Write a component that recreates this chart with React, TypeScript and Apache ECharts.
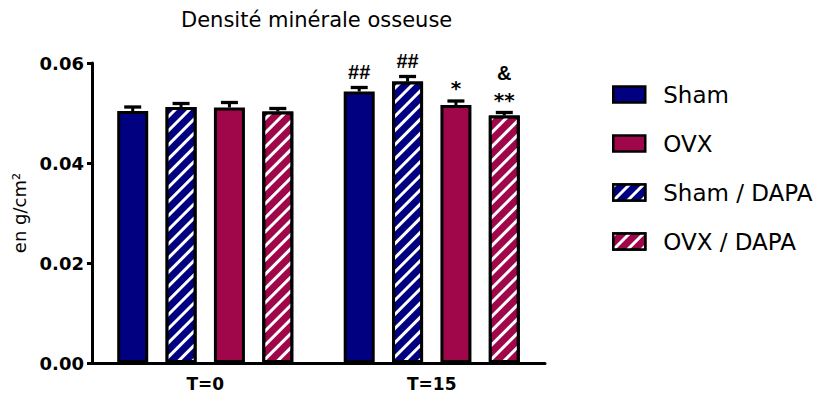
import React, { useEffect, useRef } from "react";
import * as echarts from "echarts";

const categories = ["T=0", "T=15"];
const legendOrder = ["Sham", "OVX", "Sham / DAPA", "OVX / DAPA"];

const shamValues = [0.0504, 0.0543];
const shamErr = [0.0008, 0.0008];
const shamDapaValues = [0.0512, 0.0563];
const shamDapaErr = [0.0007, 0.001];
const ovxValues = [0.0511, 0.0516];
const ovxErr = [0.001, 0.0008];
const ovxDapaValues = [0.0503, 0.0495];
const ovxDapaErr = [0.0006, 0.0006];

const shamAnnot = ["", "##"];
const shamDapaAnnot = ["", "##"];
const ovxAnnot = ["", "*"];
const ovxDapaAnnot = ["", "&\n**"];

const yMin = 0;
const yMax = 0.06;
const yInterval = 0.02;

const NAVY = "#000080";
const WINE = "#A0064A";
const BAR_W = 31;
const BAR_GAP_RATIO = 0.56;
const ARIAL = "'Liberation Sans', Arial, Helvetica, sans-serif";
const WIDE = "'DejaVu Sans', Verdana, sans-serif";

const hatch = {
  symbol: "rect",
  symbolSize: 1,
  color: "#ffffff",
  dashArrayX: [1, 0],
  dashArrayY: [3, 6.5],
  rotation: -Math.PI / 4,
};

function barSeries(name: string, values: number[], color: string, hatched: boolean) {
  return {
    type: "bar",
    name,
    data: values,
    barWidth: BAR_W,
    barGap: BAR_GAP_RATIO * 100 + "%",
    itemStyle: {
      color,
      borderColor: "#000",
      borderWidth: 3,
      ...(hatched ? { decal: hatch } : {}),
    },
    z: 2,
  };
}

function errSeries(k: number, values: number[], errs: number[], annots: string[]) {
  return {
    type: "custom",
    name: "err" + k,
    silent: true,
    z: 5,
    data: values.map((v, i) => [i, v, errs[i]]),
    encode: { x: 0, y: 1 },
    renderItem: (params: any, api: any) => {
      const i = api.value(0);
      const v = api.value(1);
      const e = api.value(2);
      const base = api.coord([i, v]);
      const top = api.coord([i, v + e]);
      const step = BAR_W * (1 + BAR_GAP_RATIO);
      const x = base[0] + (k - 1.5) * step;
      const children: any[] = [
        {
          type: "line",
          shape: { x1: x, y1: base[1], x2: x, y2: top[1] },
          style: { stroke: "#000", lineWidth: 3 },
        },
        {
          type: "line",
          shape: { x1: x - 8.5, y1: top[1], x2: x + 8.5, y2: top[1] },
          style: { stroke: "#000", lineWidth: 3.3 },
        },
      ];
      const t = annots[i];
      if (t) {
        const lines = t.split("\n").reverse();
        let y = top[1];
        lines.forEach((ln, j) => {
          const star = ln.indexOf("*") >= 0;
          if (j === 0) y = top[1] - (star ? 3 : 6);
          children.push({
            type: "text",
            style: {
              text: ln,
              x: x,
              y: y,
              align: "center",
              verticalAlign: "bottom",
              font: star ? "bold 20px " + WIDE : "bold 20px " + ARIAL,
              fill: "#000",
            },
          });
          y -= 27;
        });
      }
      return { type: "group", children };
    },
  };
}

export default function App() {
  const ref = useRef<HTMLDivElement>(null);
  useEffect(() => {
    if (!ref.current) return;
    const chart = echarts.init(ref.current, null, { renderer: "svg" });
    chart.setOption({
      animation: false,
      backgroundColor: "#ffffff",
      title: {
        text: "Densité minérale osseuse",
        left: 176,
        top: 4,
        textStyle: { fontFamily: WIDE, fontSize: 21, fontWeight: "normal", color: "#000" },
      },
      legend: {
        data: legendOrder,
        orient: "vertical",
        left: 612,
        top: 83,
        padding: 0,
        itemWidth: 32,
        itemHeight: 16,
        itemGap: 26,
        icon: "rect",
        itemStyle: { borderColor: "#000", borderWidth: 2.5 },
        textStyle: {
          fontFamily: WIDE,
          fontSize: 23,
          color: "#000",
          padding: [0, 0, 0, 13],
        },
        selectedMode: false,
      },
      grid: { left: 92, right: 273, top: 63, bottom: 35 },
      xAxis: {
        type: "category",
        data: categories,
        axisLine: { show: true, lineStyle: { color: "#000", width: 3 } },
        axisTick: { show: false },
        axisLabel: {
          color: "#000",
          fontFamily: WIDE,
          fontWeight: "bold",
          fontSize: 17,
          margin: 12,
        },
      },
      yAxis: {
        type: "value",
        min: yMin,
        max: yMax,
        interval: yInterval,
        name: "en g/cm²",
        nameLocation: "middle",
        nameGap: 60,
        nameTextStyle: { fontFamily: WIDE, fontSize: 18, color: "#000" },
        axisLine: { show: true, lineStyle: { color: "#000", width: 3 } },
        axisTick: { show: true, length: 5, lineStyle: { color: "#000", width: 3 } },
        splitLine: { show: false },
        axisLabel: {
          color: "#000",
          fontFamily: WIDE,
          fontWeight: "bold",
          fontSize: 18,
          margin: 8,
          formatter: (v: number) => v.toFixed(2),
        },
      },
      series: [
        barSeries("Sham", shamValues, NAVY, false),
        barSeries("Sham / DAPA", shamDapaValues, NAVY, true),
        barSeries("OVX", ovxValues, WINE, false),
        barSeries("OVX / DAPA", ovxDapaValues, WINE, true),
        errSeries(0, shamValues, shamErr, shamAnnot),
        errSeries(1, shamDapaValues, shamDapaErr, shamDapaAnnot),
        errSeries(2, ovxValues, ovxErr, ovxAnnot),
        errSeries(3, ovxDapaValues, ovxDapaErr, ovxDapaAnnot),
      ],
    });
    return () => chart.dispose();
  }, []);
  return (
    <div
      ref={ref}
      style={{ position: "absolute", left: 0, top: 0, width: 818, height: 398 }}
    />
  );
}
